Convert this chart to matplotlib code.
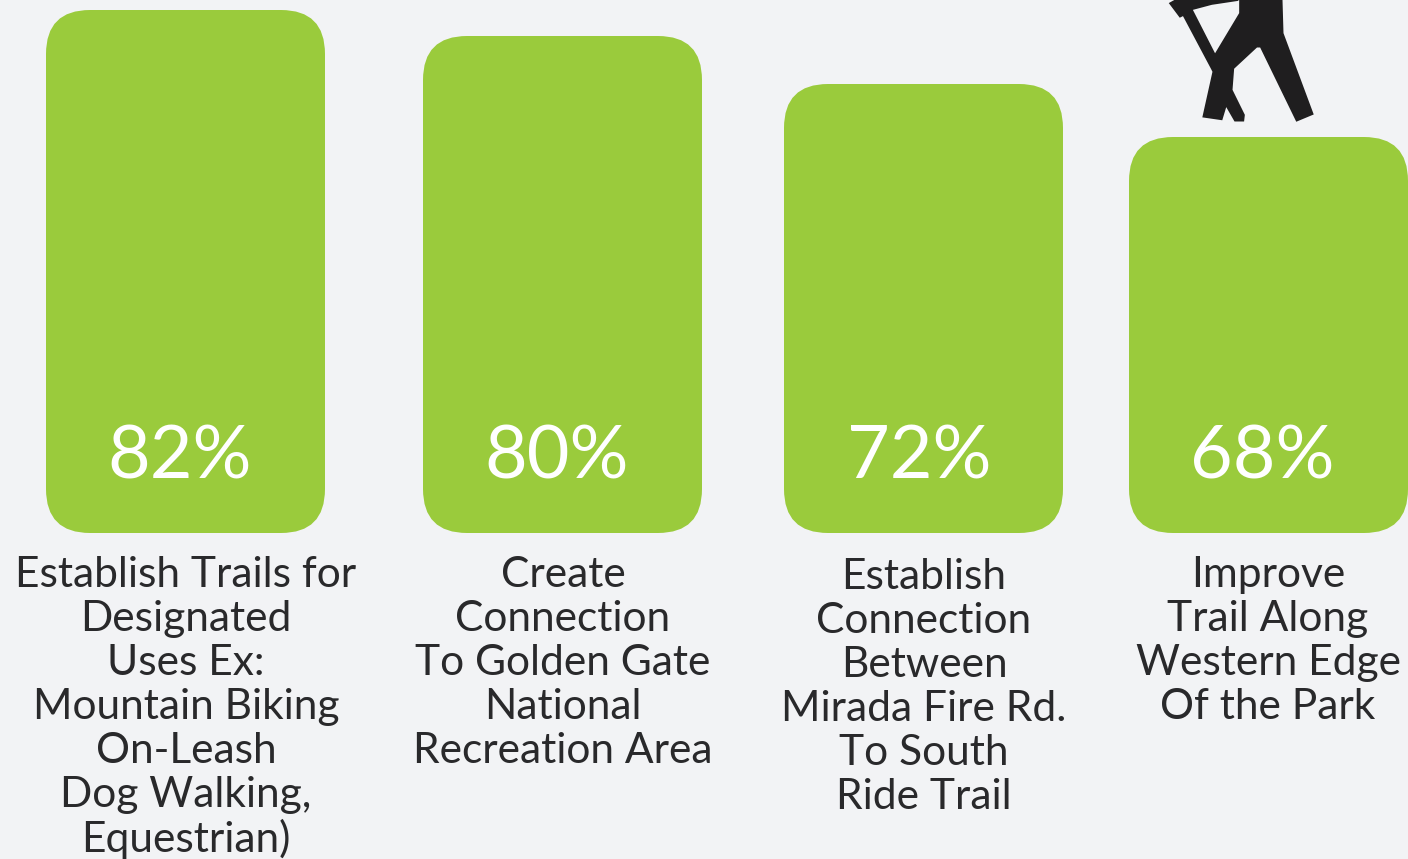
import matplotlib
matplotlib.use('Agg')
from matplotlib import pyplot as plt
from matplotlib.patches import FancyBboxPatch, Polygon
from matplotlib.transforms import Affine2D

# data
values = [82, 80, 72, 68]
# bar heights (pixels above the baseline)
bar_heights = [523, 497, 449, 396]
label_lines = [
    ["Establish Trails for", "Designated", "Uses Ex:", "Mountain Biking",
     "On-Leash", "Dog Walking,", "Equestrian)"],
    ["Create", "Connection", "To Golden Gate", "National", "Recreation Area"],
    ["Establish", "Connection", "Between", "Mirada Fire Rd.", "To South", "Ride Trail"],
    ["Improve", "Trail Along", "Western Edge", "Of the Park"],
]

bar_lefts = [46, 423, 784, 1129]
bar_width = 279
baseline = 533
value_x = [180, 557, 919, 1262]
label_x = [186, 563, 924, 1268]
label_top = [575, 575, 577, 575]
line_step = 44

BG = '#f2f3f5'
GREEN = '#9acb3c'
DARK = '#29292b'

plt.rcParams['font.family'] = ['Lato', 'DejaVu Sans']

fig = plt.figure(figsize=(14.08, 8.59), dpi=100, facecolor=BG)
ax = fig.add_axes([0, 0, 1, 1])
ax.set_xlim(0, 1408)
ax.set_ylim(baseline - 859, baseline)
ax.axis('off')

for left, height, value, vx in zip(bar_lefts, bar_heights, values, value_x):
    ax.add_patch(FancyBboxPatch((left, 0), bar_width, height,
                                boxstyle='round,pad=0,rounding_size=44',
                                facecolor=GREEN, edgecolor='none'))
    ax.text(vx, 75, f"{value}%", color='white', fontsize=53,
            ha='center', va='center')

for lines, x, top in zip(label_lines, label_x, label_top):
    for i, line in enumerate(lines):
        ax.text(x, baseline - top - i * line_step, line, color=DARK, fontsize=30.6,
                ha='center', va='center')

# hiker icon, traced in zoom pixels of the top right corner
body = [(420, 0), (420, 40), (345, 165), (275, 28), (335, 12), (415, 0), (228, 0),
        (210, 10), (240, 50), (250, 45), (335, 205), (340, 215), (310, 350),
        (365, 358), (378, 315), (405, 362), (430, 362), (432, 345), (395, 270),
        (400, 205), (470, 140), (482, 140), (590, 362), (638, 342), (548, 100),
        (545, 0)]
to_px = Affine2D().scale(1 / 3).translate(1100, 0).scale(1, -1).translate(0, baseline)
ax.add_patch(Polygon(body, closed=True, facecolor='#1f1e1f', edgecolor='#1f1e1f',
                     linewidth=1.2, transform=to_px + ax.transData))

plt.savefig('out.png', dpi=100, facecolor=BG)
